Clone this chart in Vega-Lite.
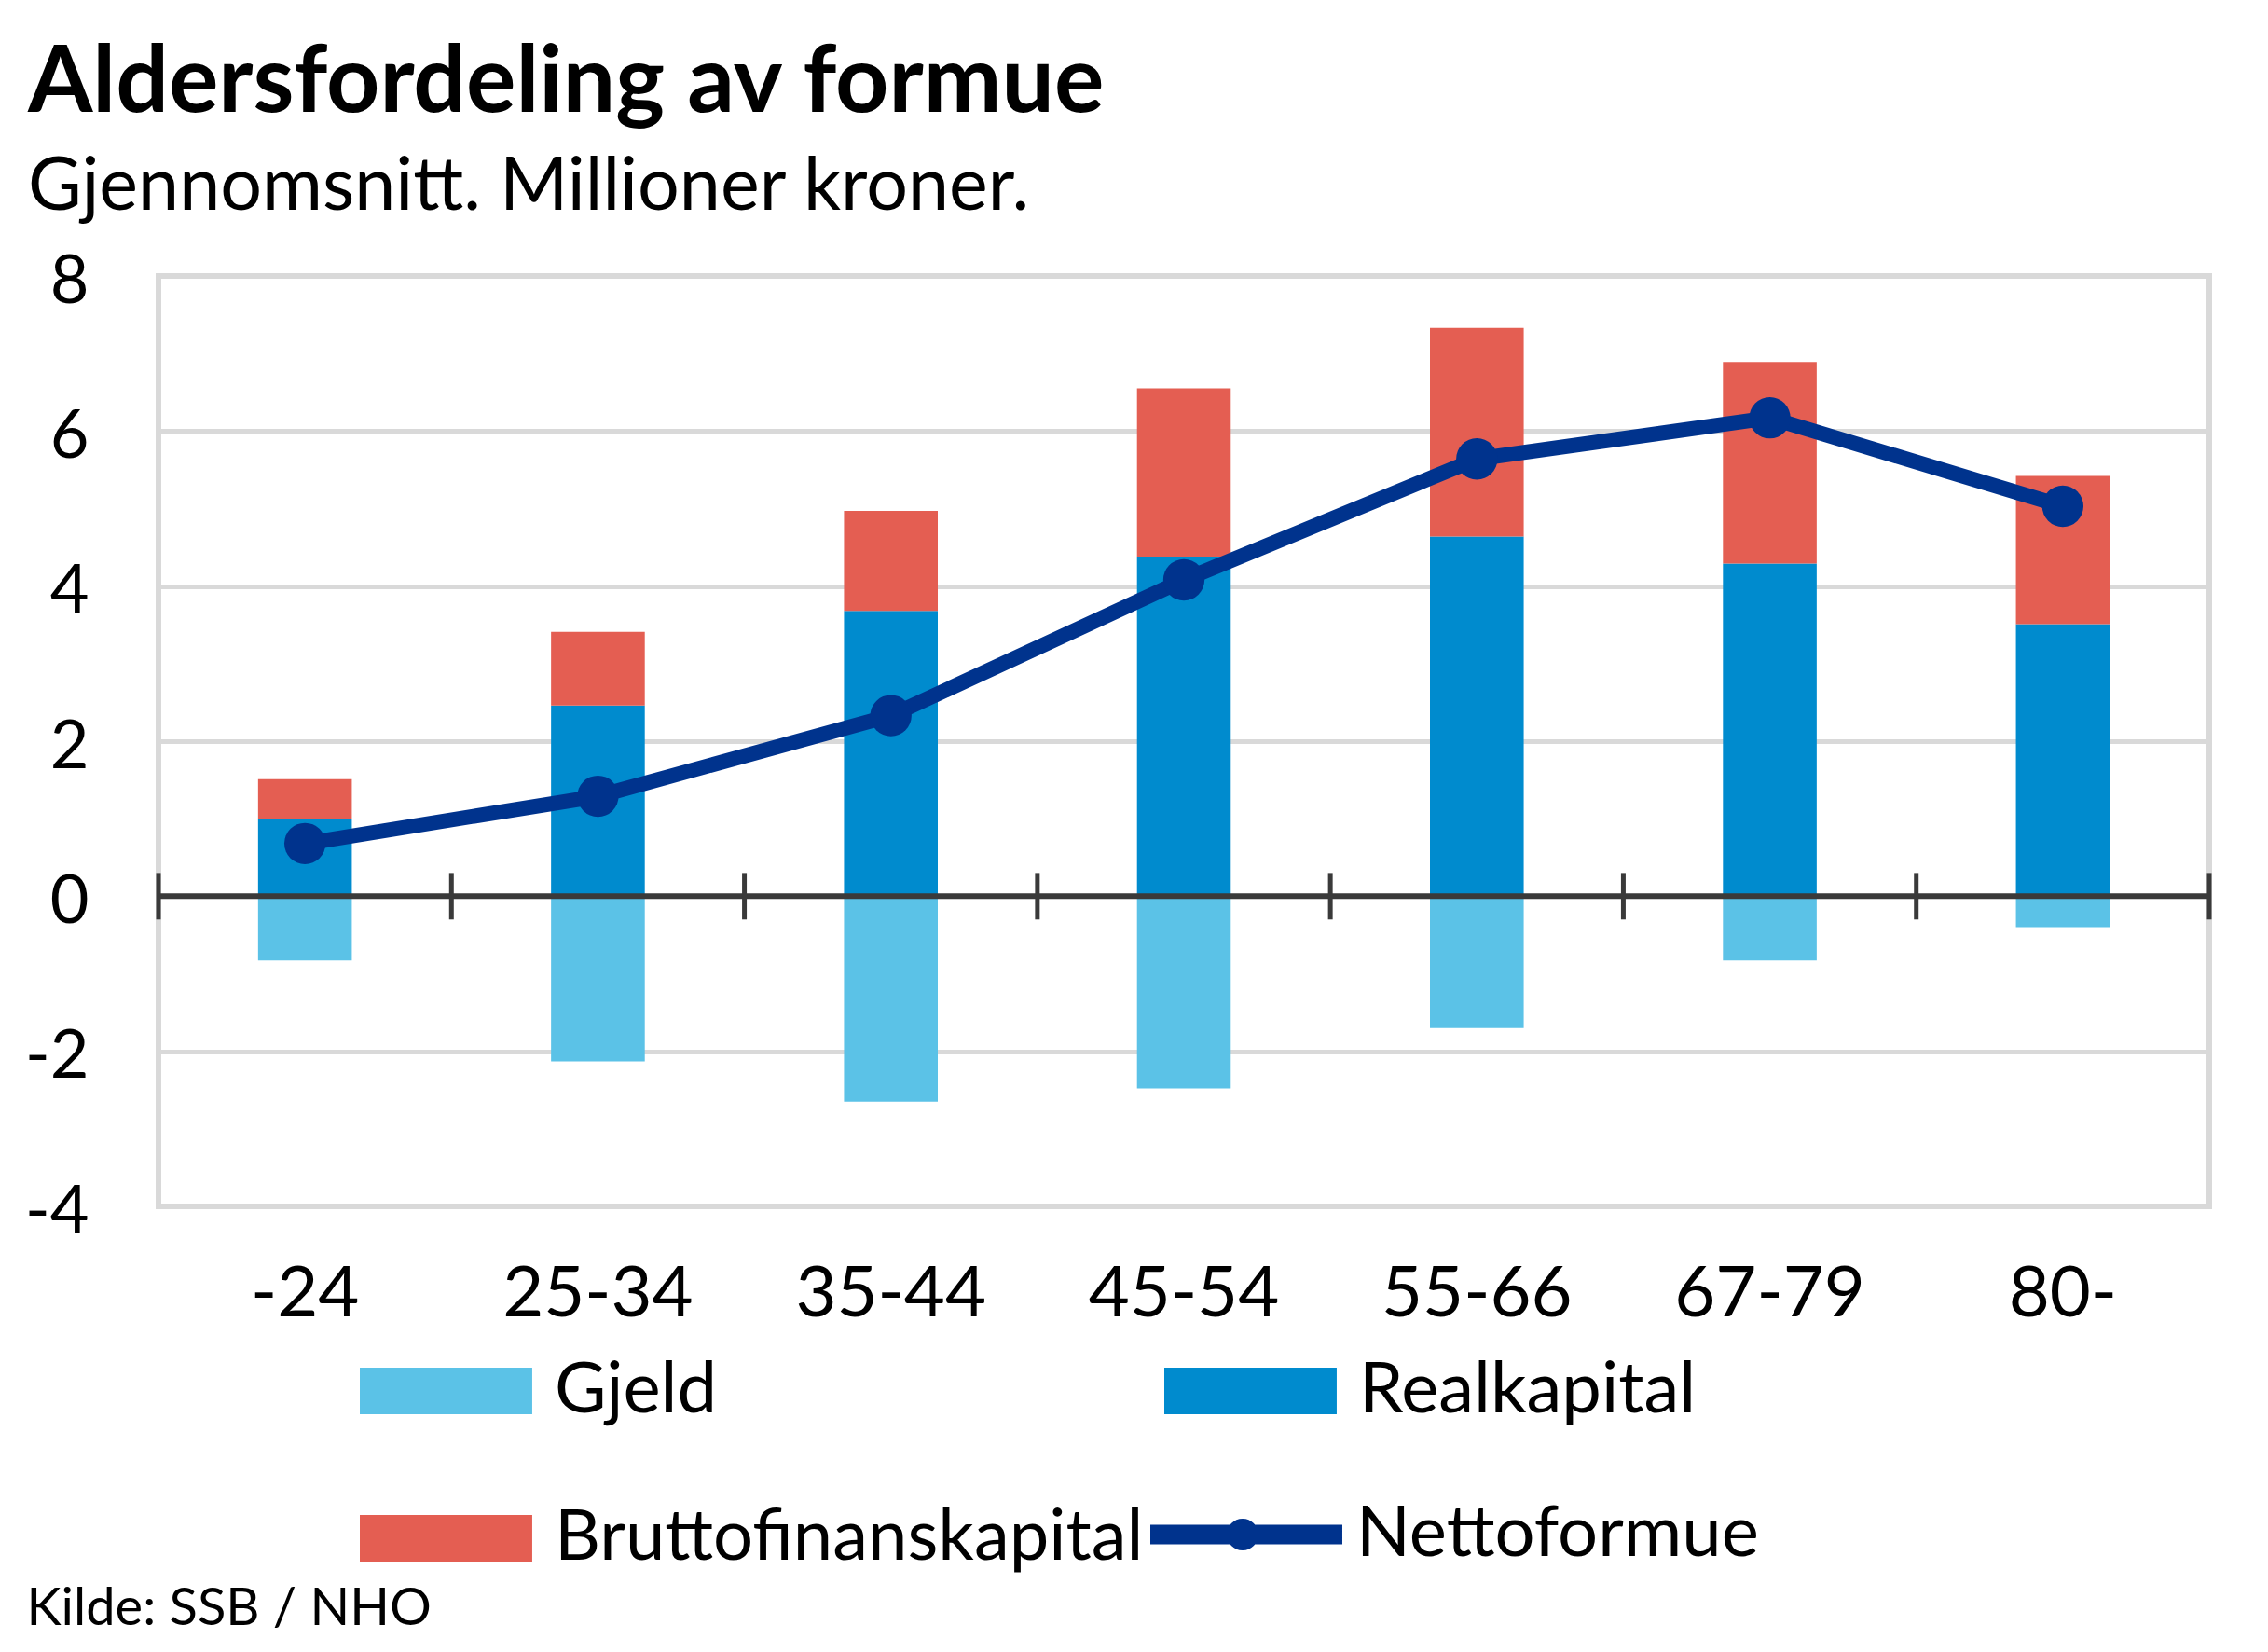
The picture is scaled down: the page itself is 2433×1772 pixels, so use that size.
{
  "$schema": "https://vega.github.io/schema/vega-lite/v6.json",
  "width": 2200,
  "height": 998,
  "autosize": {"type": "none"},
  "padding": {"left": 170, "top": 296, "right": 63, "bottom": 478},
  "background": "white",
  "title": {
    "text": "Aldersfordeling av formue",
    "subtitle": "Gjennomsnitt. Millioner kroner.",
    "anchor": "start",
    "frame": "group",
    "dx": -140,
    "offset": 24,
    "font": "Lato",
    "fontSize": 100,
    "fontWeight": "bold",
    "color": "black",
    "subtitleFont": "Lato",
    "subtitleFontSize": 79,
    "subtitleColor": "black",
    "subtitlePadding": 22
  },
  "data": {
    "values": [
      {"age": "-24", "gjeld": -0.83, "real": 0.99, "total": 1.51, "netto": 0.68},
      {"age": "25-34", "gjeld": -2.13, "real": 2.46, "total": 3.41, "netto": 1.29},
      {"age": "35-44", "gjeld": -2.65, "real": 3.68, "total": 4.97, "netto": 2.33},
      {"age": "45-54", "gjeld": -2.48, "real": 4.38, "total": 6.55, "netto": 4.08},
      {"age": "55-66", "gjeld": -1.7, "real": 4.64, "total": 7.33, "netto": 5.64},
      {"age": "67-79", "gjeld": -0.83, "real": 4.29, "total": 6.89, "netto": 6.17},
      {"age": "80-", "gjeld": -0.4, "real": 3.51, "total": 5.42, "netto": 5.03}
    ]
  },
  "layer": [
    {
      "mark": {"type": "bar"},
      "encoding": {
        "x": {
          "field": "age", "type": "nominal", "sort": null,
          "scale": {"paddingInner": 0.68, "paddingOuter": 0.34},
          "axis": {
            "labelAngle": 0, "domain": false, "ticks": false, "grid": false,
            "labelPadding": 117, "labelBaseline": "alphabetic", "labelLimit": 500,
            "labelFont": "Lato", "labelFontSize": 76, "labelColor": "black",
            "title": "Kilde: SSB / NHO", "titleX": -142, "titleY": 448,
            "titleAlign": "left", "titleAnchor": "start", "titleBaseline": "alphabetic",
            "titleFont": "Lato", "titleFontSize": 56, "titleFontWeight": "normal", "titleColor": "black"
          }
        },
        "y": {
          "field": "gjeld", "type": "quantitative",
          "scale": {"domain": [-4, 8], "nice": false, "zero": false},
          "axis": {
            "values": [-4, -2, 0, 2, 4, 6, 8], "labelExpr": "toString(datum.value)",
            "domain": false, "ticks": false,
            "labelPadding": 75, "labelOffset": 6, "labelLimit": 300,
            "labelFont": "Lato", "labelFontSize": 72, "labelColor": "black",
            "gridColor": "#d9d9d9", "gridWidth": 5, "title": null
          }
        },
        "fill": {
          "datum": "Gjeld",
          "scale": {
            "domain": ["Gjeld", "Realkapital", "Bruttofinanskapital"],
            "range": ["#5BC2E7", "#008BCE", "#E45E52"]
          },
          "legend": {
            "orient": "none", "legendX": 216, "legendY": 1128,
            "direction": "horizontal", "columns": 2, "title": null, "padding": 0,
            "symbolType": "M-1,-0.368H1.72V0.368H-1Z", "symbolSize": 18496,
            "symbolStrokeWidth": 0, "symbolOpacity": 1,
            "labelFont": "Lato", "labelFontSize": 76, "labelColor": "black",
            "labelOffset": 73, "labelLimit": 0, "rowPadding": 52, "columnPadding": 22
          }
        }
      }
    },
    {
      "mark": {"type": "bar"},
      "encoding": {
        "x": {"field": "age", "type": "nominal", "sort": null},
        "y": {"field": "real", "type": "quantitative", "title": null},
        "fill": {"datum": "Realkapital"}
      }
    },
    {
      "mark": {"type": "bar"},
      "encoding": {
        "x": {"field": "age", "type": "nominal", "sort": null},
        "y": {"field": "real", "type": "quantitative", "title": null},
        "y2": {"field": "total"},
        "fill": {"datum": "Bruttofinanskapital"}
      }
    },
    {
      "data": {"values": [{}]},
      "mark": {"type": "rule", "color": "#3a3a3a", "strokeWidth": 6},
      "encoding": {"y": {"datum": 0, "type": "quantitative"}}
    },
    {
      "mark": {"type": "rule", "color": "#3a3a3a", "strokeWidth": 5},
      "encoding": {
        "x": {"field": "age", "type": "nominal", "sort": null, "bandPosition": -1.0625},
        "y": {"datum": -0.3, "type": "quantitative"},
        "y2": {"datum": 0.3}
      }
    },
    {
      "transform": [{"filter": "datum.age == '80-'"}],
      "mark": {"type": "rule", "color": "#3a3a3a", "strokeWidth": 5},
      "encoding": {
        "x": {"field": "age", "type": "nominal", "sort": null, "bandPosition": 2.0625},
        "y": {"datum": -0.3, "type": "quantitative"},
        "y2": {"datum": 0.3}
      }
    },
    {
      "mark": {"type": "line", "color": "#00338D", "strokeWidth": 16},
      "encoding": {
        "x": {"field": "age", "type": "nominal", "sort": null},
        "y": {"field": "netto", "type": "quantitative", "title": null}
      }
    },
    {
      "mark": {"type": "point", "filled": true, "opacity": 1, "size": 1963, "shape": "circle"},
      "encoding": {
        "x": {"field": "age", "type": "nominal", "sort": null},
        "y": {"field": "netto", "type": "quantitative", "title": null},
        "color": {
          "datum": "Nettoformue",
          "scale": {"range": ["#00338D"]},
          "legend": {
            "orient": "none", "legendX": 1064, "legendY": 1290, "title": null, "padding": 0,
            "symbolType": "M-1,-0.175H2.433V0.175H-1Z M0.65,-0.283A0.283,0.283 0 1,1 0.65,0.283A0.283,0.283 0 1,1 0.65,-0.283Z",
            "symbolSize": 14400, "symbolStrokeWidth": 0, "symbolOpacity": 1,
            "labelFont": "Lato", "labelFontSize": 76, "labelColor": "black",
            "labelOffset": 101, "labelLimit": 0
          }
        }
      }
    }
  ],
  "config": {
    "font": "Lato",
    "view": {"stroke": "#d9d9d9", "strokeWidth": 6}
  }
}
